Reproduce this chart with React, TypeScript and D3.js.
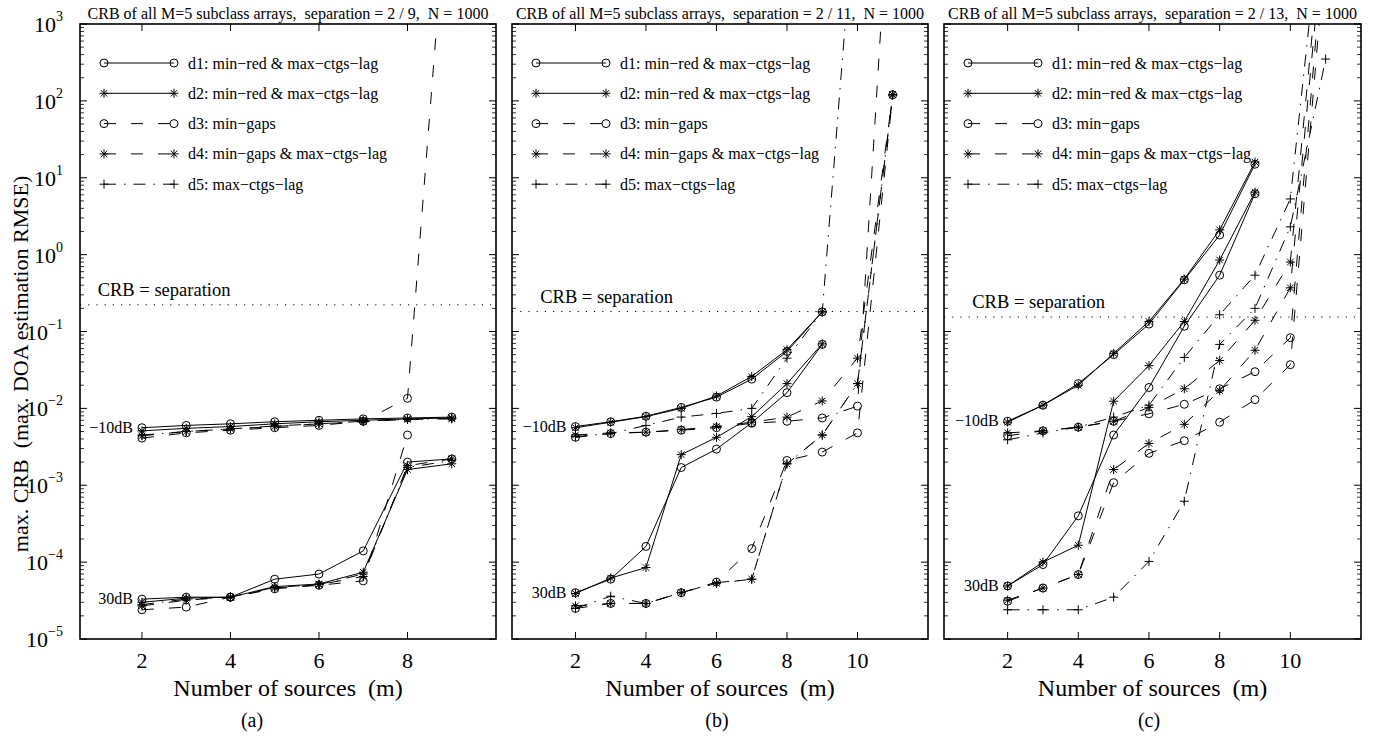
import React from "react";
import * as d3 from "d3";

// number of sources (x values)
const mA = [2, 3, 4, 5, 6, 7, 8, 9];
const mBC = [2, 3, 4, 5, 6, 7, 8, 9, 10, 11];

// panel (a), separation 2/9 — "Lo" = -10dB group, "Hi" = 30dB group
const aD1Lo = [5.6e-3, 6.0e-3, 6.3e-3, 6.7e-3, 7.0e-3, 7.3e-3, 7.5e-3, 7.7e-3];
const aD2Lo = [5.1e-3, 5.5e-3, 5.8e-3, 6.3e-3, 6.7e-3, 7.0e-3, 7.3e-3, 7.5e-3];
const aD3Lo = [4.1e-3, 4.8e-3, 5.2e-3, 5.6e-3, 6.0e-3, 6.8e-3, 1.35e-2, 3e5];
const aD4Lo = [4.4e-3, 5.0e-3, 5.4e-3, 5.8e-3, 6.3e-3, 6.7e-3, 7.2e-3, 7.3e-3];
const aD5Lo = [4.5e-3, 5.0e-3, 5.4e-3, 5.9e-3, 6.3e-3, 6.8e-3, 7.2e-3, 7.4e-3];
const aD1Hi = [3.3e-5, 3.5e-5, 3.5e-5, 6.0e-5, 7.0e-5, 1.4e-4, 2.0e-3, 2.2e-3];
const aD2Hi = [3.0e-5, 3.4e-5, 3.5e-5, 4.8e-5, 5.2e-5, 7.4e-5, 1.6e-3, 1.9e-3];
const aD3Hi = [2.4e-5, 2.6e-5, 3.5e-5, 4.5e-5, 5.0e-5, 5.7e-5, 4.5e-3, null];
const aD4Hi = [2.7e-5, 3.2e-5, 3.5e-5, 4.6e-5, 5.1e-5, 6.5e-5, 1.8e-3, 2.2e-3];
const aD5Hi = [2.8e-5, 3.3e-5, 3.5e-5, 4.7e-5, 5.1e-5, 7.0e-5, 1.7e-3, 2.1e-3];

// panel (b), separation 2/11
const bD1Lo = [5.8e-3, 6.7e-3, 7.9e-3, 1.03e-2, 1.4e-2, 2.4e-2, 5.5e-2, 0.18, null, null];
const bD2Lo = [5.6e-3, 6.6e-3, 7.8e-3, 1.0e-2, 1.45e-2, 2.6e-2, 5.8e-2, 0.18, null, null];
const bD3Lo = [4.2e-3, 4.7e-3, 4.9e-3, 5.2e-3, 5.6e-3, 6.4e-3, 6.8e-3, 7.5e-3, 1.07e-2, 3e5];
const bD4Lo = [4.5e-3, 4.8e-3, 4.9e-3, 5.3e-3, 5.8e-3, 6.6e-3, 7.7e-3, 1.25e-2, 4.5e-2, 120];
const bD5Lo = [4.3e-3, 4.7e-3, 6.0e-3, 7.7e-3, 8.6e-3, 1.0e-2, 4.5e-2, 0.18, 1e5, null];
const bD1Hi = [4.0e-5, 6.0e-5, 1.6e-4, 1.7e-3, 2.95e-3, 6.5e-3, 1.6e-2, 6.8e-2, null, null];
const bD2Hi = [3.9e-5, 6.2e-5, 8.5e-5, 2.5e-3, 4.2e-3, 7.8e-3, 2.1e-2, 6.9e-2, null, null];
const bD3Hi = [2.5e-5, 2.9e-5, 2.9e-5, 4.0e-5, 5.5e-5, 1.5e-4, 2.1e-3, 2.7e-3, 4.8e-3, 120];
const bD4Hi = [2.7e-5, 2.9e-5, 2.9e-5, 4.0e-5, 5.3e-5, 6.0e-5, 1.9e-3, 4.5e-3, 2.1e-2, 120];
const bD5Hi = [2.5e-5, 3.6e-5, 2.9e-5, 4.0e-5, 5.4e-5, 6.0e-5, 1.9e-3, 4.5e-3, 2.1e-2, 120];

// panel (c), separation 2/13
const cD1Lo = [6.8e-3, 1.1e-2, 2.1e-2, 5.0e-2, 0.125, 0.47, 1.8, 15, null, null];
const cD2Lo = [6.6e-3, 1.1e-2, 2.0e-2, 5.2e-2, 0.135, 0.48, 2.1, 16, null, null];
const cD3Lo = [4.4e-3, 5.1e-3, 5.7e-3, 6.8e-3, 8.5e-3, 1.13e-2, 1.8e-2, 3.0e-2, 8.3e-2, 2e4];
const cD4Lo = [4.8e-3, 5.1e-3, 5.7e-3, 6.8e-3, 1.03e-2, 1.8e-2, 4.2e-2, 0.14, 0.8, 5e4];
const cD5Lo = [3.9e-3, 4.8e-3, 5.7e-3, 7.7e-3, 1.1e-2, 4.6e-2, 0.165, 0.54, 5.3, 1e5];
const cD1Hi = [4.9e-5, 9.3e-5, 4.0e-4, 4.5e-3, 1.87e-2, 0.117, 0.54, 6.2, null, null];
const cD2Hi = [4.9e-5, 1.0e-4, 1.66e-4, 1.24e-2, 3.6e-2, 0.135, 0.85, 6.5, null, null];
const cD3Hi = [3.1e-5, 4.6e-5, 6.9e-5, 1.08e-3, 2.6e-3, 3.8e-3, 6.6e-3, 1.3e-2, 3.7e-2, 1e4];
const cD4Hi = [3.2e-5, 4.6e-5, 6.9e-5, 1.6e-3, 3.5e-3, 6.2e-3, 1.7e-2, 5.7e-2, 0.37, 3e4];
const cD5Hi = [2.4e-5, 2.4e-5, 2.4e-5, 3.5e-5, 1.02e-4, 6.2e-4, 6.8e-2, 0.2, 2.3, 350];

const legendLabels = [
  "d1: min\u2212red & max\u2212ctgs\u2212lag",
  "d2: min\u2212red & max\u2212ctgs\u2212lag",
  "d3: min\u2212gaps",
  "d4: min\u2212gaps & max\u2212ctgs\u2212lag",
  "d5: max\u2212ctgs\u2212lag",
];
const sepLabels = ["2 / 9", "2 / 11", "2 / 13"];
const separations = [2 / 9, 2 / 11, 2 / 13];
const letters = ["(a)", "(b)", "(c)"];

const FONT = '"Liberation Serif", "Times New Roman", Times, serif';
const TOP = 24;
const BOTTOM = 639;
const DASH = "12,15";
const DASHDOT = "12,8,1.5,8";

const styles = [
  { marker: "o", dash: undefined },
  { marker: "*", dash: undefined },
  { marker: "o", dash: DASH },
  { marker: "*", dash: DASH },
  { marker: "+", dash: DASHDOT },
];

function Marker({ type, cx, cy }) {
  if (type === "o")
    return <circle cx={cx} cy={cy} r={4} fill="none" stroke="#000" strokeWidth={1} />;
  const r = 4.5;
  if (type === "+")
    return <path d={`M${cx - r},${cy}H${cx + r}M${cx},${cy - r}V${cy + r}`} stroke="#000" strokeWidth={1} />;
  const k = r * 0.72;
  return (
    <path
      d={`M${cx - r},${cy}H${cx + r}M${cx},${cy - r}V${cy + r}M${cx - k},${cy - k}L${cx + k},${cy + k}M${cx - k},${cy + k}L${cx + k},${cy - k}`}
      stroke="#000"
      strokeWidth={1}
    />
  );
}

function Panel({ id, left, width, xDomain, xTicks, m, lo, hi, idx, showY }) {
  const x = d3.scaleLinear().domain(xDomain).range([left, left + width]);
  const y = d3.scaleLog().domain([1e-5, 1e3]).range([BOTTOM, TOP]);
  const line = d3
    .line()
    .defined((d) => d[1] != null)
    .x((d) => x(d[0]))
    .y((d) => y(d[1]));

  const decades = d3.range(-5, 4);
  const minors = [];
  decades.slice(0, -1).forEach((k) => {
    for (let j = 2; j <= 9; j++) minors.push(j * Math.pow(10, k));
  });

  const groups = [lo, hi];
  const right = left + width;
  const sepY = y(separations[idx]);

  return (
    <g>
      <defs>
        <clipPath id={id}>
          <rect x={left} y={TOP} width={width} height={BOTTOM - TOP} />
        </clipPath>
      </defs>

      {/* title */}
      <text x={left + width / 2} y={19} textAnchor="middle" fontSize={16} style={{ whiteSpace: "pre" }}>
        {`CRB of all M=5 subclass arrays,  separation = ${sepLabels[idx]},  N = 1000`}
      </text>

      {/* data */}
      <g clipPath={`url(#${id})`}>
        <line x1={left} x2={right} y1={sepY} y2={sepY} stroke="#000" strokeWidth={1} strokeDasharray="1.2,7" />
        {groups.map((series, gi) =>
          series.map((vals, si) => {
            const pts = m.map((v, i) => [v, vals[i]]);
            return (
              <g key={`${gi}-${si}`}>
                <path d={line(pts)} fill="none" stroke="#000" strokeWidth={1} strokeDasharray={styles[si].dash} />
                {pts
                  .filter((p) => p[1] != null && p[1] <= 1e3)
                  .map((p, pi) => (
                    <Marker key={pi} type={styles[si].marker} cx={x(p[0])} cy={y(p[1])} />
                  ))}
              </g>
            );
          })
        )}
      </g>

      <text x={x(1)} y={sepY - 9} fontSize={18.5}>
        CRB = separation
      </text>

      {/* SNR labels next to first point of d1 */}
      <text x={x(2) - 9} y={y(lo[0][0]) + 5} textAnchor="end" fontSize={16}>
        {"\u221210dB"}
      </text>
      <text x={x(2) - 9} y={y(hi[0][0]) + 5} textAnchor="end" fontSize={16}>
        30dB
      </text>

      {/* legend */}
      {legendLabels.map((lab, i) => {
        const ly = 63 + i * 30.3;
        const x1 = left + 24;
        const x2 = left + 94;
        return (
          <g key={lab}>
            <line x1={x1} x2={x2} y1={ly} y2={ly} stroke="#000" strokeWidth={1} strokeDasharray={styles[i].dash} />
            <Marker type={styles[i].marker} cx={x1} cy={ly} />
            <Marker type={styles[i].marker} cx={x2} cy={ly} />
            <text x={left + 108} y={ly + 5.5} fontSize={16}>
              {lab}
            </text>
          </g>
        );
      })}

      {/* axes box */}
      <rect x={left} y={TOP} width={width} height={BOTTOM - TOP} fill="none" stroke="#000" strokeWidth={1.6} />

      {/* x ticks */}
      {xTicks.map((t) => (
        <g key={t}>
          <line x1={x(t)} x2={x(t)} y1={BOTTOM} y2={BOTTOM - 7} stroke="#000" strokeWidth={1} />
          <line x1={x(t)} x2={x(t)} y1={TOP} y2={TOP + 7} stroke="#000" strokeWidth={1} />
          <text x={x(t)} y={668} textAnchor="middle" fontSize={22}>
            {t}
          </text>
        </g>
      ))}

      {/* y ticks */}
      {decades.map((k) => (
        <g key={k}>
          <line x1={left} x2={left + 7} y1={y(Math.pow(10, k))} y2={y(Math.pow(10, k))} stroke="#000" strokeWidth={1} />
          <line x1={right} x2={right - 7} y1={y(Math.pow(10, k))} y2={y(Math.pow(10, k))} stroke="#000" strokeWidth={1} />
          {showY && (
            <text x={left - 17} y={y(Math.pow(10, k)) + 8} textAnchor="end" fontSize={22}>
              10
              <tspan fontSize={14} dy={-11}>
                {k < 0 ? `\u2212${-k}` : `${k}`}
              </tspan>
            </text>
          )}
        </g>
      ))}
      {minors.map((v, i) => (
        <g key={i}>
          <line x1={left} x2={left + 4} y1={y(v)} y2={y(v)} stroke="#000" strokeWidth={0.8} />
          <line x1={right} x2={right - 4} y1={y(v)} y2={y(v)} stroke="#000" strokeWidth={0.8} />
        </g>
      ))}

      {/* x label */}
      <text x={left + width / 2} y={696} textAnchor="middle" fontSize={24} style={{ whiteSpace: "pre" }}>
        {"Number of sources  (m)"}
      </text>
    </g>
  );
}

export default function App() {
  const panels = [
    { id: "clipA", left: 80, width: 416, xDomain: [0.6, 10], xTicks: [2, 4, 6, 8], m: mA,
      lo: [aD1Lo, aD2Lo, aD3Lo, aD4Lo, aD5Lo], hi: [aD1Hi, aD2Hi, aD3Hi, aD4Hi, aD5Hi], letterX: 252 },
    { id: "clipB", left: 512, width: 416, xDomain: [0.2, 12], xTicks: [2, 4, 6, 8, 10], m: mBC,
      lo: [bD1Lo, bD2Lo, bD3Lo, bD4Lo, bD5Lo], hi: [bD1Hi, bD2Hi, bD3Hi, bD4Hi, bD5Hi], letterX: 717 },
    { id: "clipC", left: 944, width: 417, xDomain: [0.2, 12], xTicks: [2, 4, 6, 8, 10], m: mBC,
      lo: [cD1Lo, cD2Lo, cD3Lo, cD4Lo, cD5Lo], hi: [cD1Hi, cD2Hi, cD3Hi, cD4Hi, cD5Hi], letterX: 1149 },
  ];

  return (
    <svg
      width={1373}
      height={738}
      style={{ position: "absolute", left: 0, top: 0, background: "#fff", fontFamily: FONT }}
    >
      <rect width={1373} height={738} fill="#fff" />
      {panels.map((p, i) => (
        <Panel key={p.id} {...p} idx={i} showY={i === 0} />
      ))}
      {panels.map((p, i) => (
        <text key={i} x={p.letterX} y={727} textAnchor="middle" fontSize={20}>
          {letters[i]}
        </text>
      ))}
      <text
        transform="translate(28,364) rotate(-90)"
        textAnchor="middle"
        fontSize={22}
        style={{ whiteSpace: "pre" }}
      >
        {"max. CRB  (max. DOA estimation RMSE)"}
      </text>
    </svg>
  );
}
